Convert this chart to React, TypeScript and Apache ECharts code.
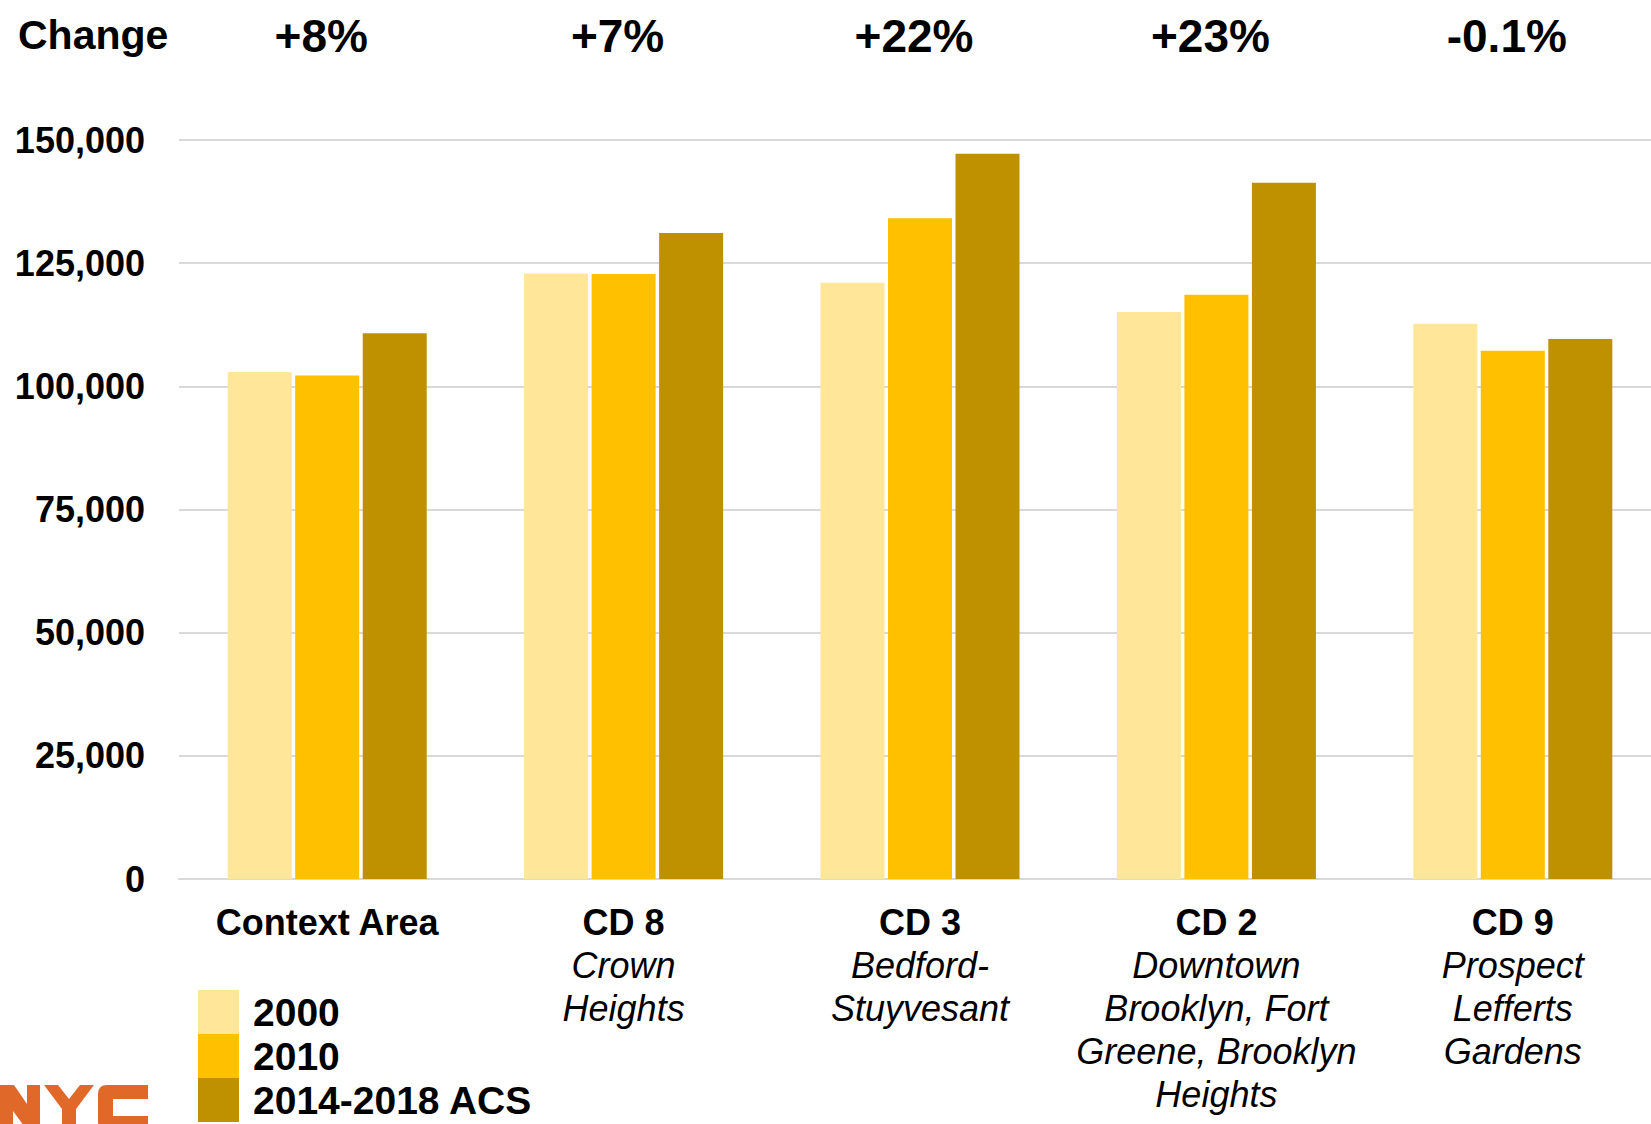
import React, { useEffect, useRef } from "react";
import * as echarts from "echarts";

// Community districts compared with the surrounding context area
const categories = ["Context Area", "CD 8", "CD 3", "CD 2", "CD 9"];
const neighborhoods = [
  "",
  "Crown\nHeights",
  "Bedford-\nStuyvesant",
  "Downtown\nBrooklyn, Fort\nGreene, Brooklyn\nHeights",
  "Prospect\nLefferts\nGardens",
];
const changeLabels = ["+8%", "+7%", "+22%", "+23%", "-0.1%"];

// Population counts per period
const seriesNames = ["2000", "2010", "2014-2018 ACS"];
const pop2000 = [102900, 122900, 121000, 115100, 112700];
const pop2010 = [102200, 122800, 134100, 118600, 107200];
const popAcs = [110800, 131100, 147200, 141300, 109600];

const yTicks = { min: 0, max: 150000, interval: 25000 };

const colors = ["#FFE699", "#FFC000", "#BF9000"];
const FONT = "'Liberation Sans', Arial, Helvetica, sans-serif";

// Block-letter city wordmark
const logoPath =
  "M0,0 H14 L27,19 V0 H40 V45 H27 L13,26 V45 H0 Z " +
  "M44,0 H58 L69,14 L80,0 H94 L76,24 V45 H62 V24 Z " +
  "M98,9 Q98,0 107,0 H148 V14 H113 V31 H148 V45 H107 Q98,45 98,36 Z";
echarts.graphic.registerShape("nycLogo", (echarts.graphic as any).extendPath(logoPath, {}));

// The plot area runs a little past the right edge of the page
const CANVAS_W = 1661;
const CANVAS_H = 1124;

export default function App() {
  const ref = useRef<HTMLDivElement>(null);

  useEffect(() => {
    if (!ref.current) return;
    const chart = echarts.init(ref.current, undefined, { renderer: "svg" });

    const barSeries = [pop2000, pop2010, popAcs].map((data, i) => ({
      name: seriesNames[i],
      type: "bar" as const,
      data,
      barWidth: 64,
      barGap: "5.5%",
      itemStyle: { color: colors[i] },
    }));

    chart.setOption({
      animation: false,
      backgroundColor: "#ffffff",
      textStyle: { fontFamily: FONT },
      grid: { left: 179, right: 0, top: 140, bottom: 245, containLabel: false },
      legend: {
        orient: "vertical",
        left: 198,
        top: 990,
        padding: 0,
        itemWidth: 41,
        itemHeight: 44,
        itemGap: 0,
        icon: "rect",
        selectedMode: false,
        data: seriesNames,
        textStyle: {
          fontFamily: FONT,
          fontSize: 39,
          fontWeight: "bold",
          color: "#000",
          lineHeight: 30,
          padding: [10, 0, 0, 9],
        },
      },
      xAxis: [
        {
          type: "category",
          data: categories,
          position: "bottom",
          axisLine: { show: true, lineStyle: { color: "#d9d9d9", width: 2 } },
          axisTick: { show: false },
          axisLabel: {
            interval: 0,
            margin: 21,
            verticalAlign: "top",
            formatter: (value: string, index: number) => {
              const sub = neighborhoods[index];
              const lines = ["{b|" + value + "}"];
              if (sub) sub.split("\n").forEach((l) => lines.push("{i|" + l + "}"));
              return lines.join("\n");
            },
            rich: {
              b: {
                fontFamily: FONT,
                fontSize: 36,
                fontWeight: "bold",
                color: "#000",
                lineHeight: 44,
              },
              i: {
                fontFamily: FONT,
                fontSize: 36,
                fontStyle: "italic",
                color: "#000",
                lineHeight: 43,
              },
            },
          },
        },
        {
          type: "category",
          data: changeLabels,
          position: "top",
          axisLine: { show: false },
          axisTick: { show: false },
          axisLabel: {
            interval: 0,
            margin: 104,
            verticalAlign: "middle",
            fontFamily: FONT,
            fontSize: 46,
            fontWeight: "bold",
            color: "#000",
            padding: [0, 12, 0, 0],
          },
        },
      ],
      yAxis: {
        type: "value",
        min: yTicks.min,
        max: yTicks.max,
        interval: yTicks.interval,
        axisLine: { show: false },
        axisTick: { show: false },
        splitLine: { lineStyle: { color: "#d9d9d9", width: 2 } },
        axisLabel: {
          margin: 34,
          fontFamily: FONT,
          fontSize: 36,
          fontWeight: "bold",
          color: "#000",
          formatter: (v: number) => v.toLocaleString("en-US"),
        },
      },
      graphic: [
        {
          type: "text",
          left: 18,
          top: 14,
          style: {
            text: "Change",
            fontFamily: FONT,
            fontSize: 41,
            fontWeight: "bold",
            fill: "#000",
          },
        },
        {
          type: "nycLogo",
          x: 0,
          y: 1085,
          scaleX: 1,
          scaleY: 1,
          style: { fill: "#E0692A" },
        },
      ],
      series: barSeries,
    });

    return () => chart.dispose();
  }, []);

  return (
    <div
      style={{
        position: "fixed",
        left: 0,
        top: 0,
        width: 1651,
        height: 1124,
        overflow: "hidden",
        background: "#fff",
      }}
    >
      <div ref={ref} style={{ width: CANVAS_W, height: CANVAS_H }} />
    </div>
  );
}
